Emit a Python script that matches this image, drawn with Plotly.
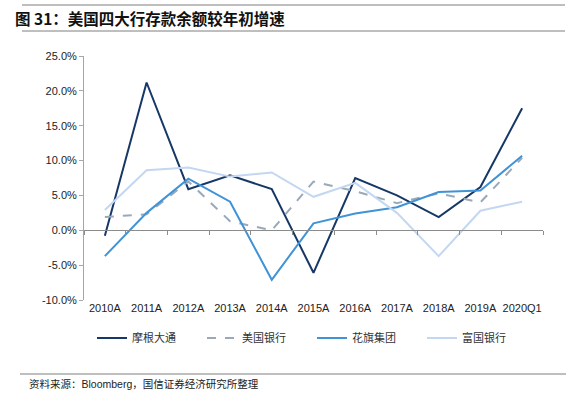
import plotly.graph_objects as go

categories = ["2010A", "2011A", "2012A", "2013A", "2014A", "2015A",
              "2016A", "2017A", "2018A", "2019A", "2020Q1"]
jpm = [-0.8, 21.2, 5.9, 7.9, 5.9, -6.1, 7.5, 5.0, 1.9, 6.2, 17.5]
bac = [1.9, 2.3, 7.0, 1.3, 0.0, 7.0, 5.6, 3.9, 5.3, 4.0, 10.4]
citi = [-3.7, 2.5, 7.4, 4.1, -7.1, 1.0, 2.4, 3.3, 5.5, 5.7, 10.7]
wfc = [2.9, 8.6, 9.0, 7.7, 8.3, 4.8, 6.8, 2.5, -3.7, 2.8, 4.1]
series_names = ["摩根大通", "美国银行", "花旗集团", "富国银行"]
y_ticks = [-10, -5, 0, 5, 10, 15, 20, 25]
y_tick_labels = ["-10.0%", "-5.0%", "0.0%", "5.0%", "10.0%", "15.0%", "20.0%", "25.0%"]

title_text = "图 31：美国四大行存款余额较年初增速"
source_text = "资料来源：Bloomberg，国信证券经济研究所整理"

W, H = 577, 398
L, R, T, B = 84, 543, 56, 300

def px(x):
    return (x - L) / (R - L)

def py(y):
    return (B - y) / (B - T)

idx = list(range(len(categories)))
fig = go.Figure()
styles = [
    dict(color="#163866", width=2, dash="solid"),
    dict(color="#9aa9b9", width=2, dash="dash"),
    dict(color="#3f93d6", width=2, dash="solid"),
    dict(color="#c3d7f1", width=2, dash="solid"),
]
for name, vals, st in zip(series_names, [jpm, bac, citi, wfc], styles):
    fig.add_trace(go.Scatter(x=idx, y=vals, mode="lines", name=name, line=st))

# dummy trace for the zero-line axis
fig.add_trace(go.Scatter(x=[-0.5, 10.5], y=[0, 0], mode="lines", xaxis="x2",
                         line=dict(color="rgba(0,0,0,0)"), showlegend=False,
                         hoverinfo="skip"))

tick_font = dict(family="Liberation Sans, Arial, sans-serif", size=11, color="#222")
ymin, ymax = -10, 25
fig.update_layout(
    width=W, height=H,
    margin=dict(l=L, r=W - R, t=T, b=H - B, pad=0, autoexpand=False),
    paper_bgcolor="white", plot_bgcolor="white",
    showlegend=True,
    legend=dict(orientation="h", x=px(92), y=py(338), xanchor="left", yanchor="middle",
                font=dict(family="Noto Sans CJK SC, serif", size=11, color="#333"),
                entrywidth=65, entrywidthmode="pixels", itemwidth=30,
                bgcolor="rgba(0,0,0,0)"),
    xaxis=dict(range=[-0.5, 10.5], tickmode="array", tickvals=idx, ticktext=categories,
               showline=False, ticks="", showgrid=False, zeroline=False,
               tickfont=tick_font, fixedrange=True),
    xaxis2=dict(range=[-0.5, 10.5], overlaying="x", anchor="free",
                position=(0 - ymin) / (ymax - ymin),
                tickmode="array", tickvals=[i - 0.5 for i in range(len(categories) + 1)],
                showticklabels=False, ticks="outside", ticklen=4, tickcolor="#8c8c8c",
                tickwidth=1, showline=True, linecolor="#8c8c8c", linewidth=1,
                showgrid=False, zeroline=False, side="bottom"),
    yaxis=dict(range=[ymin, ymax], tickmode="array", tickvals=y_ticks, ticktext=y_tick_labels,
               showline=True, linecolor="#a6a6a6", linewidth=1, ticks="outside", ticklen=4,
               tickcolor="#a6a6a6", showgrid=False, zeroline=False, tickfont=tick_font,
               fixedrange=True),
)

# header / footer rules and texts
line_col = "#7f7f7f"
for yy in (5, 31):
    fig.add_shape(type="line", xref="paper", yref="paper", x0=px(22), x1=px(565),
                  y0=py(yy), y1=py(yy), line=dict(color=line_col, width=1))
fig.add_shape(type="line", xref="paper", yref="paper", x0=px(20), x1=px(566),
              y0=py(374), y1=py(374), line=dict(color=line_col, width=1))

fig.add_annotation(text="<b>" + title_text + "</b>", xref="paper", yref="paper",
                   x=px(13), y=py(18), xanchor="left", yanchor="middle", showarrow=False,
                   font=dict(family="Noto Sans CJK SC, sans-serif", size=15.5, color="#111"))
fig.add_annotation(text=source_text, xref="paper", yref="paper",
                   x=px(27), y=py(384), xanchor="left", yanchor="middle", showarrow=False,
                   font=dict(family="Liberation Sans, Noto Sans CJK SC, sans-serif", size=10.5, color="#222"))

fig.write_html("out.html", config={"displayModeBar": False},
               post_script="document.body.style.margin='0';document.body.style.overflow='hidden';")
